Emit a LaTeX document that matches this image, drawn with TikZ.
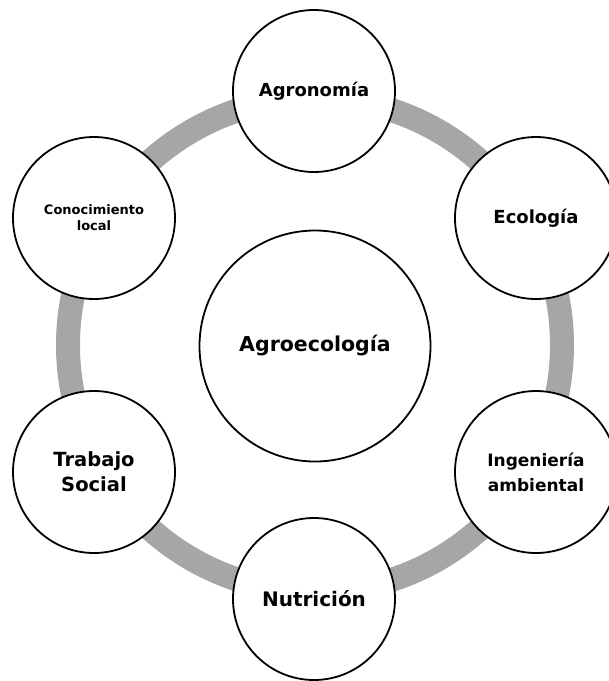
\documentclass[tikz,border=0pt]{standalone}
\usepackage{fontspec}
\setmainfont{DejaVu Sans}
\definecolor{ringgray}{RGB}{166, 166, 166}
\usepackage{tikz}
\usetikzlibrary{positioning}

\begin{document}
\begin{tikzpicture}[x=1pt, y=-1pt,
    disc/.style={draw, circle, line width=1.8pt, fill=white, minimum size=162pt, inner sep=0pt, align=center},
    hubdisc/.style={disc, minimum size=231pt}]
  \useasboundingbox (0, 0) rectangle (609, 681);

  % Ring behind the circles
  \coordinate (hub) at (315, 345);
  \draw[ringgray, line width=24pt] (hub) circle[radius=247pt];

  % Centre
  \node[hubdisc, font=\bfseries\fontsize{20.5}{24}\selectfont] (agroeco) at (315, 346) {Agroecología};

  % Disciplines
  \node[disc, font=\bfseries\fontsize{18}{22}\selectfont] (agronomia) at (314, 91) {Agronomía};
  \node[disc, font=\bfseries\fontsize{18}{22}\selectfont] (ecologia) at (536, 218) {Ecología};
  \node[disc, font=\bfseries\fontsize{17}{25}\selectfont] (ingenieria) at (536, 472) {Ingeniería\\ambiental};
  \node[disc, font=\bfseries\fontsize{20}{24}\selectfont] (nutricion) at (314, 599) {Nutrición};
  \node[disc, font=\bfseries\fontsize{19.5}{25}\selectfont] (trabajo) at (94, 472) {Trabajo\\Social};
  \node[disc, font=\bfseries\fontsize{13}{16}\selectfont] (conocimiento) at (94, 218) {Conocimiento\\local};
\end{tikzpicture}
\end{document}
